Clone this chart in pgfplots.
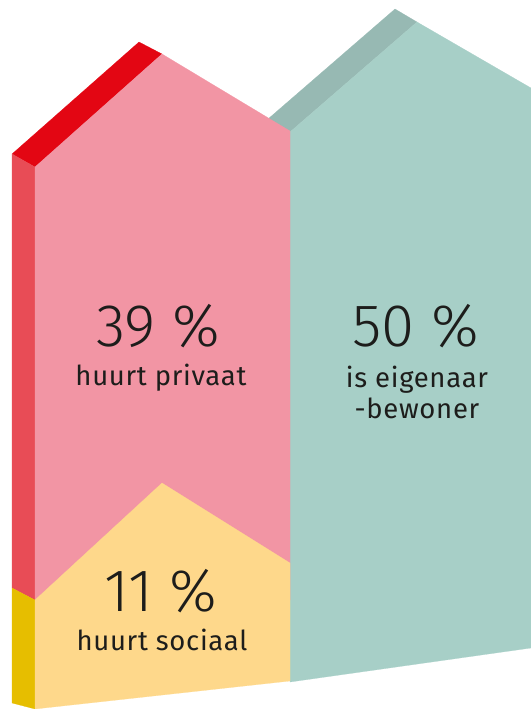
\documentclass[border=0pt]{standalone}
\usepackage{fontspec}
\setmainfont{Fira Sans}[LetterSpace=2.5]
\newfontfamily\lightfont{Fira Sans}[UprightFont=* Light]
\usepackage{pgfplots}
\pgfplotsset{compat=1.18}
\definecolor{pinkfront}{HTML}{F295A4}
\definecolor{redband}{HTML}{E30613}
\definecolor{redside}{HTML}{E84C56}
\definecolor{yelfront}{HTML}{FED88B}
\definecolor{yelside}{HTML}{E6BE00}
\definecolor{tealfront}{HTML}{A7CFC7}
\definecolor{tealband}{HTML}{97B9B3}
\definecolor{txt}{HTML}{1D1D1B}
\begin{document}
\begin{tikzpicture}
\begin{axis}[width=531bp,height=709bp,scale only axis,
  xmin=0,xmax=531,ymin=0,ymax=709,y dir=reverse,axis lines=none,clip=true]
% teal house (50 %)
\addplot[fill=tealband,draw=tealband,line width=0.2pt] coordinates {(395,9)(417,22)(290,132)(268,119)(395,9)};
\addplot[fill=tealfront,draw=tealfront,line width=0.2pt] coordinates {(290,132)(417,22)(531,88)(531,648)(290,682)(290,132)};
% pink house (39 %)
\addplot[fill=redband,draw=redband,line width=0.2pt] coordinates {(12,154)(139,42)(162,54)(35,167)(12,154)};
\addplot[fill=redside,draw=redside,line width=0.2pt] coordinates {(12,154)(35,167)(35,600)(12,588)(12,154)};
\addplot[fill=pinkfront,draw=pinkfront,line width=0.2pt] coordinates {(35,167)(162,54)(290,131)(290,600)(35,640)(35,167)};
% yellow house (11 %)
\addplot[fill=yelside,draw=yelside,line width=0.2pt] coordinates {(12,588)(35,600)(35,709)(12,703)(12,588)};
\addplot[fill=yelfront,draw=yelfront,line width=0.2pt] coordinates {(35,600)(162,483)(290,563)(290,681)(35,709)(35,600)};
% labels
\node[anchor=base,text=txt,font=\lightfont\fontsize{60bp}{60bp}\selectfont] at (axis cs:158,346) {39 \%};
\node[anchor=base,text=txt,font=\fontsize{27.5bp}{31bp}\selectfont] at (axis cs:161,385) {huurt privaat};
\node[anchor=base,text=txt,font=\lightfont\fontsize{60bp}{60bp}\selectfont] at (axis cs:416,346) {50 \%};
\node[anchor=base,text=txt,font=\fontsize{27.5bp}{31bp}\selectfont] at (axis cs:417,387) {is eigenaar};
\node[anchor=base,text=txt,font=\fontsize{27.5bp}{31bp}\selectfont] at (axis cs:417,418) {-bewoner};
\node[anchor=base,text=txt,font=\lightfont\fontsize{60bp}{60bp}\selectfont] at (axis cs:161,611) {11 \%};
\node[anchor=base,text=txt,font=\fontsize{27.5bp}{31bp}\selectfont] at (axis cs:162,650) {huurt sociaal};
\end{axis}
\path (current axis.south west) rectangle (current axis.north east);
\end{tikzpicture}
\end{document}
